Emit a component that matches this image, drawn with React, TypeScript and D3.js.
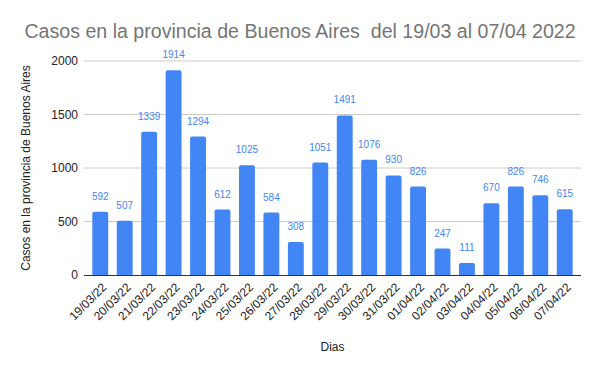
import { useEffect, useRef } from "react";
import * as d3 from "d3";

const days = [
  "19/03/22", "20/03/22", "21/03/22", "22/03/22", "23/03/22", "24/03/22", "25/03/22",
  "26/03/22", "27/03/22", "28/03/22", "29/03/22", "30/03/22", "31/03/22", "01/04/22",
  "02/04/22", "03/04/22", "04/04/22", "05/04/22", "06/04/22", "07/04/22",
];
const casos = [592, 507, 1339, 1914, 1294, 612, 1025, 584, 308, 1051, 1491, 1076, 930, 826, 247, 111, 670, 826, 746, 615];
const yTicks = [0, 500, 1000, 1500, 2000];

const W = 600;
const H = 371;

export default function App() {
  const svgRef = useRef<SVGSVGElement>(null);

  useEffect(() => {
    if (!svgRef.current) return;
    const svg = d3.select(svgRef.current);
    svg.selectAll("*").remove();

    const margin = { top: 61, right: 19, bottom: 96, left: 84 };
    const x0 = margin.left;
    const x1 = W - margin.right;
    const y0 = H - margin.bottom;
    const y1 = margin.top;
    const font = "'Liberation Sans', Arial, sans-serif";

    svg.append("rect").attr("width", W).attr("height", H).attr("fill", "#fff");

    const x = d3.scaleBand<string>().domain(days).range([x0, x1]).paddingInner(0.35).paddingOuter(0.34);
    const y = d3.scaleLinear().domain([0, 2000]).range([y0, y1]);

    // Title
    svg.append("text")
      .attr("x", W / 2).attr("y", 38)
      .attr("text-anchor", "middle")
      .style("white-space", "pre")
      .attr("fill", "#757575").attr("font-size", "19.6px").attr("font-family", font)
      .text("Casos en la provincia de Buenos Aires  del 19/03 al 07/04 2022");

    // Grid
    svg.selectAll(".grid")
      .data(yTicks.filter((t) => t > 0)).enter().append("line")
      .attr("x1", x0).attr("x2", x1)
      .attr("y1", (d) => y(d)).attr("y2", (d) => y(d))
      .attr("stroke", "#cccccc").attr("stroke-width", 1);

    // Y tick labels
    svg.selectAll(".ytick")
      .data(yTicks).enter().append("text")
      .attr("x", x0 - 6).attr("y", (d) => y(d))
      .attr("dy", "0.35em").attr("text-anchor", "end")
      .attr("fill", "#222").attr("font-size", "12px").attr("font-family", font)
      .text((d) => d);

    // Bars with slightly rounded tops
    const r = 2;
    svg.selectAll(".bar")
      .data(casos).enter().append("path")
      .attr("fill", "#4285f4")
      .attr("d", (d, i) => {
        const bx = x(days[i]) ?? 0;
        const bw = x.bandwidth();
        const top = y(d);
        return `M${bx},${y0}V${top + r}Q${bx},${top} ${bx + r},${top}H${bx + bw - r}Q${bx + bw},${top} ${bx + bw},${top + r}V${y0}Z`;
      });

    // Value labels
    svg.selectAll(".val")
      .data(casos).enter().append("text")
      .attr("x", (d, i) => (x(days[i]) ?? 0) + x.bandwidth() / 2)
      .attr("y", (d) => y(d) - 12)
      .attr("text-anchor", "middle")
      .attr("fill", "#4285f4").attr("font-size", "10px").attr("font-family", font)
      .text((d) => d);

    // Baseline
    svg.append("line")
      .attr("x1", x0).attr("x2", x1).attr("y1", y0 + 0.5).attr("y2", y0 + 0.5)
      .attr("stroke", "#333").attr("stroke-width", 1);

    // X tick labels
    svg.selectAll(".xtick")
      .data(days).enter().append("text")
      .attr("transform", (d) => `translate(${(x(d) ?? 0) + x.bandwidth() / 2 + 4},${y0 + 10}) rotate(-45)`)
      .attr("text-anchor", "end").attr("dy", "0.35em")
      .attr("fill", "#222").attr("font-size", "12px").attr("font-family", font)
      .text((d) => d);

    // Axis titles
    svg.append("text")
      .attr("x", (x0 + x1) / 2).attr("y", 351)
      .attr("text-anchor", "middle")
      .attr("fill", "#222").attr("font-size", "12px").attr("font-family", font)
      .text("Dias");

    svg.append("text")
      .attr("transform", `translate(30,${(y0 + y1) / 2}) rotate(-90)`)
      .attr("text-anchor", "middle")
      .attr("fill", "#222").attr("font-size", "12px").attr("font-family", font)
      .text("Casos en la provincia de Buenos Aires");
  }, []);

  return (
    <div style={{ position: "absolute", left: 0, top: 0 }}>
      <svg ref={svgRef} width={W} height={H} style={{ display: "block" }} />
    </div>
  );
}
